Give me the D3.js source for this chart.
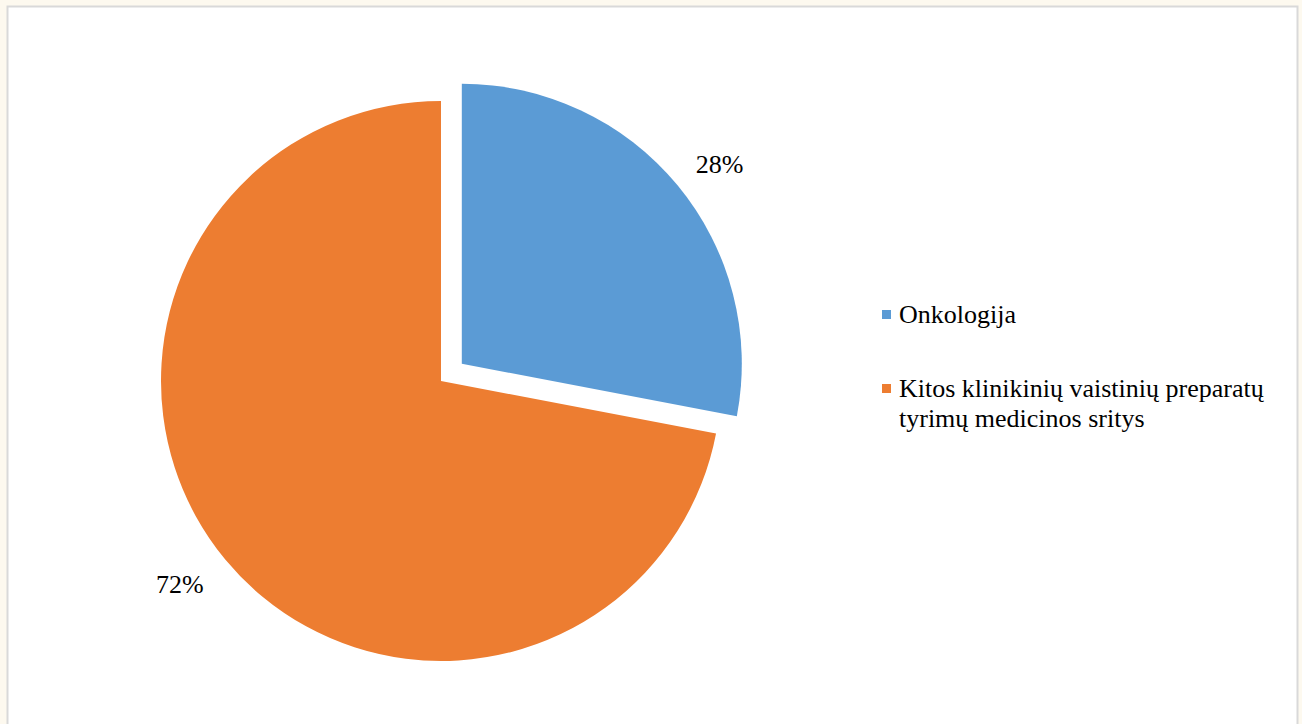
<!DOCTYPE html>
<html>
<head>
<meta charset="utf-8">
<script src="https://cdn.jsdelivr.net/npm/d3@7"></script>
<style>
  html, body { margin: 0; padding: 0; background: #fdf9ef; }
  #chart { position: absolute; left: 0; top: 0; }
  text { font-family: "Liberation Serif", "Times New Roman", serif; fill: #000; }
</style>
</head>
<body>
<div id="chart"></div>
<script>
// data
const categories = ["Onkologija", "Kitos klinikinių vaistinių preparatų tyrimų medicinos sritys"];
const values = [28, 72];
const legendLines = [["Onkologija"], ["Kitos klinikinių vaistinių preparatų", "tyrimų medicinos sritys"]];
const colors = ["#5b9bd5", "#ed7d31"];

const width = 1302, height = 724;
const cx = 441, cy = 381, radius = 280;
const explode = [27, 0];

const svg = d3.select('#chart').append('svg')
    .attr('width', width)
    .attr('height', height);

// chart area frame
svg.append('rect')
    .attr('x', 7.5).attr('y', 6.5)
    .attr('width', 1290).attr('height', 730)
    .attr('fill', '#fff')
    .attr('stroke', '#d9d9d9')
    .attr('stroke-width', 2);

const pie = d3.pie().sort(null).value(d => d)(values);
const arc = d3.arc().innerRadius(0).outerRadius(radius);

const g = svg.append('g').attr('transform', `translate(${cx},${cy})`);

g.selectAll('path')
    .data(pie)
    .join('path')
    .attr('d', arc)
    .attr('fill', (d, i) => colors[i])
    .attr('transform', (d, i) => {
        const a = (d.startAngle + d.endAngle) / 2;
        return `translate(${Math.sin(a) * explode[i]},${-Math.cos(a) * explode[i]})`;
    });

// percent labels outside the slices
const labelR = [radius + 46, radius + 51];
const labelTurn = [0.03, 0.03];
g.selectAll('text.pct')
    .data(pie)
    .join('text')
    .attr('class', 'pct')
    .attr('text-anchor', 'middle')
    .attr('font-size', 26)
    .attr('dy', '0.33em')
    .attr('x', (d, i) => {
        const a = (d.startAngle + d.endAngle) / 2 + labelTurn[i];
        return Math.sin(a) * (labelR[i] + explode[i]);
    })
    .attr('y', (d, i) => {
        const a = (d.startAngle + d.endAngle) / 2 + labelTurn[i];
        return -Math.cos(a) * (labelR[i] + explode[i]);
    })
    .text(d => d.data + '%');

// legend
const legend = svg.append('g')
    .selectAll('g')
    .data(categories)
    .join('g')
    .attr('transform', (d, i) => `translate(882,${310 + i * 74})`);

legend.append('rect')
    .attr('width', 9)
    .attr('height', 9)
    .attr('fill', (d, i) => colors[i]);

legend.append('text')
    .attr('x', 17)
    .attr('y', 13)
    .attr('font-size', 26)
    .selectAll('tspan')
    .data((d, i) => legendLines[i])
    .join('tspan')
    .attr('x', 17)
    .attr('dy', (d, j) => j === 0 ? 0 : 30)
    .text(d => d);
</script>
</body>
</html>
